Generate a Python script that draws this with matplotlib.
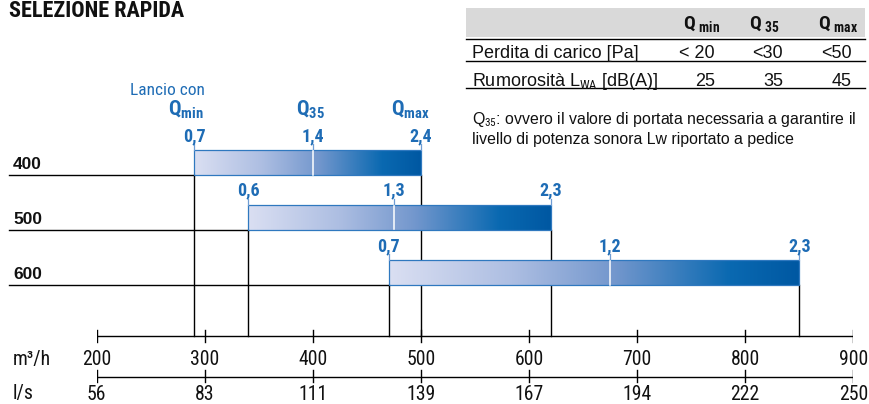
import numpy as np
import matplotlib.pyplot as plt
from matplotlib import font_manager
from matplotlib.colors import LinearSegmentedColormap
from matplotlib.patches import Rectangle

installed = {f.name for f in font_manager.fontManager.ttflist}
NARROW = next((n for n in ['Roboto Condensed', 'Archivo Narrow', 'Asap Condensed',
                           'Liberation Sans Narrow'] if n in installed), 'DejaVu Sans')
SANS = 'Liberation Sans'
plt.rcParams['font.family'] = [SANS, 'DejaVu Sans']
plt.rcParams['mathtext.fontset'] = 'custom'
plt.rcParams['mathtext.rm'] = NARROW
plt.rcParams['mathtext.bf'] = NARROW + ':bold'

BLUE = '#1e6cb5'

# dati
sizes = ['400', '500', '600']
q_min = [290, 340, 470]
q_35 = [400, 475, 675]
q_max = [500, 620, 850]
lancio_min = ['0,7', '0,6', '0,7']
lancio_35 = ['1,4', '1,3', '1,2']
lancio_max = ['2,4', '2,3', '2,3']

ticks_m3h = [200, 300, 400, 500, 600, 700, 800, 900]
labels_ls = ['56', '83', '111', '139', '167', '194', '222', '250']

tab_head = [r'$\mathbf{Q}_{\;\mathbf{min}}$', r'$\mathbf{Q}_{\;\mathbf{35}}$', r'$\mathbf{Q}_{\;\mathbf{max}}$']
tab_rows = ['Perdita di carico [Pa]', r'Rumorosità L$_{\mathrm{WA}}$ [dB(A)]']
tab_perdita = ['< 20', '<30', '<50']
tab_rumore = ['25', '35', '45']

W, H = 870, 404
fig = plt.figure(figsize=(W / 100, H / 100), dpi=100)

# pixel position of 200 and 900 m3/h
x0, x1 = 96.7, 853.3
ax = fig.add_axes([x0 / W, 0, (x1 - x0) / W, 1])
lay = fig.add_axes([0, 0, 1, 1])   # layout axes in pixel units
lay.set_xlim(0, W)
lay.set_ylim(H, 0)
lay.axis('off')


def px2x(px):
    return 200 + (px - x0) * 700 / (x1 - x0)


cmap = LinearSegmentedColormap.from_list(
    'lancio', [(0, '#dadff2'), (0.3, '#adbee2'), (0.55, '#7397cd'),
               (0.83, '#0a69b1'), (1, '#0058a2')])
grad = np.linspace(0, 1, 256).reshape(1, -1)

row_base = [175.3, 230, 285.3]
bar_h = 25
axis_y = 336
axis2_y = 376.7

for i in range(len(sizes)):
    yb = row_base[i]
    yt = yb - bar_h
    ax.plot([px2x(9), q_min[i]], [yb, yb], color='k', lw=1, clip_on=False)
    ax.imshow(grad, cmap=cmap, extent=[q_min[i], q_max[i], yb, yt],
              aspect='auto', zorder=2, interpolation='bilinear')
    ax.add_patch(Rectangle((q_min[i], yt), q_max[i] - q_min[i], bar_h,
                           fill=False, ec='#2f78bf', lw=0.9, zorder=3))
    ax.plot([q_35[i]] * 2, [yt + 0.8, yb - 0.8], color='white', lw=1.1, zorder=4)
    for q, lab in zip([q_min[i], q_35[i], q_max[i]],
                      [lancio_min[i], lancio_35[i], lancio_max[i]]):
        ax.plot([q, q], [yt - 6, yt], color='#6f9dd4', lw=0.9, zorder=3)
        ax.text(q, yt - 9.3, lab, ha='center', va='baseline', color=BLUE,
                fontfamily=NARROW, fontweight='bold', fontsize=13)
    for q in (q_min[i], q_max[i]):
        ax.plot([q, q], [yb, axis_y], color='k', lw=1)
    lay.text(13, yb - 6.5, sizes[i], ha='left', va='baseline', color='#111111',
             fontfamily=SANS, fontweight='bold', fontsize=12.5)

# intestazioni Q sopra la prima barra
ax.annotate('Lancio con', (q_min[0], 95), xytext=(10.7, 0), textcoords='offset pixels',
            ha='right', va='baseline', color=BLUE, fontfamily=NARROW, fontsize=12.5)
for q, s, dx in zip([q_min[0], q_35[0], q_max[0]],
                    [r'$\mathbf{Q_{min}}$', r'$\mathbf{Q_{35}}$', r'$\mathbf{Q_{max}}$'],
                    [-8, -2, -10]):
    ax.annotate(s, (q, 116), xytext=(dx, 0), textcoords='offset pixels',
                ha='center', va='baseline', color=BLUE, fontsize=15)

# assi m3/h e l/s
for yy, base, labels in ((axis_y, 365, [str(t) for t in ticks_m3h]),
                         (axis2_y, 400.5, labels_ls)):
    ax.plot([ticks_m3h[0], ticks_m3h[-1]], [yy, yy], color='k', lw=1)
    for t, lab in zip(ticks_m3h, labels):
        ax.plot([t, t], [yy - 6.5, yy + 5.5], color='k', lw=1)
        ax.text(t, base, lab, ha='center', va='baseline', color='#111111',
                fontfamily=NARROW, fontsize=14.2, clip_on=False)
lay.text(13, 365, 'm³/h', ha='left', va='baseline', color='#111111',
         fontfamily=NARROW, fontsize=14.2)
lay.text(13, 399, 'l/s', ha='left', va='baseline', color='#111111',
         fontfamily=NARROW, fontsize=14.2)

ax.set_xlim(200, 900)
ax.set_ylim(H, 0)
ax.axis('off')

# titolo
lay.text(9, 16.7, 'SELEZIONE RAPIDA', ha='left', va='baseline', color='#111111',
         fontfamily=NARROW, fontweight='bold', fontsize=16)

# tabella
tx0, tx1 = 466, 865
lay.add_patch(Rectangle((tx0, 8.3), tx1 - tx0, 28.4, color='#d9d9d9', lw=0))
for yy in (39.3, 61, 87.7):
    lay.plot([tx0, tx1], [yy, yy], color='k', lw=1)
for xh, s in zip([683, 749, 818], tab_head):
    lay.text(xh, 30, s, ha='left', va='baseline', color='#111111', fontsize=14)
lay.text(471.7, 58.5, tab_rows[0], ha='left', va='baseline', color='#111111', fontsize=13)
lay.text(471.7, 85.5, tab_rows[1], ha='left', va='baseline', color='#111111', fontsize=13)
for xr, a, b in zip([715, 783, 852], tab_perdita, tab_rumore):
    lay.text(xr, 58.5, a, ha='right', va='baseline', color='#111111', fontsize=13)
    lay.text(xr, 85.5, b, ha='right', va='baseline', color='#111111', fontsize=13)
lay.text(471.7, 124, r'Q$_{35}$: ovvero il valore di portata necessaria a garantire il',
         ha='left', va='baseline', color='#111111', fontsize=11.4)
lay.text(471.7, 144, 'livello di potenza sonora Lw riportato a pedice',
         ha='left', va='baseline', color='#111111', fontsize=11.4)

fig.savefig('out.png', dpi=100)
